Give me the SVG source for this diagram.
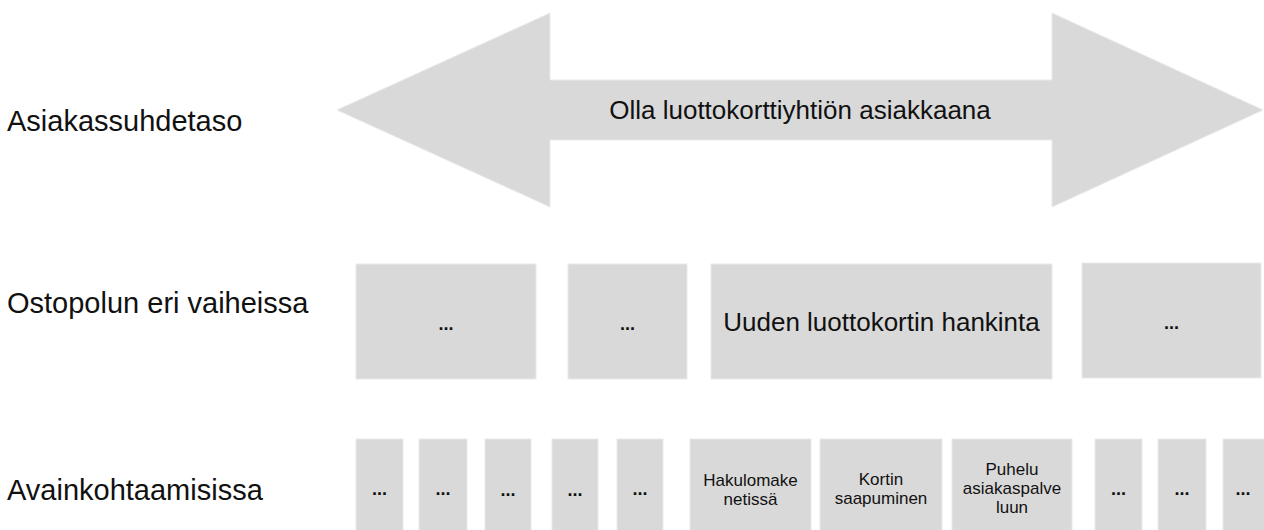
<svg xmlns="http://www.w3.org/2000/svg" width="1264" height="530" viewBox="0 0 1264 530">
<style>
.shape{fill:#D9D9D9;stroke:#E9E9E9;stroke-width:1}
.lbl{font-family:"Liberation Sans",Arial,sans-serif;fill:#111}
.side{font-size:29px}
.big{font-size:26px;text-anchor:middle}
.dots{font-size:18px;text-anchor:middle;font-weight:bold}
.sm{font-size:17px;text-anchor:middle}
</style>
<rect width="1264" height="530" fill="#fff"/>
<g id="labels">
<text class="lbl side" x="7" y="131">Asiakassuhdetaso</text>
<text class="lbl side" x="7" y="313">Ostopolun eri vaiheissa</text>
<text class="lbl side" x="7" y="500">Avainkohtaamisissa</text>
</g>
<g id="arrow">
<polygon class="shape" points="337,110 550,13 550,80 1052,80 1052,13 1263,110 1052,207 1052,140 550,140 550,207"/>
<text class="lbl big" x="800" y="119">Olla luottokorttiyhtiön asiakkaana</text>
</g>
<g id="phase1"><rect class="shape" x="356" y="264" width="180" height="115"/><text class="lbl dots" x="446" y="330">...</text></g>
<g id="phase2"><rect class="shape" x="568" y="264" width="119" height="115"/><text class="lbl dots" x="627.5" y="330">...</text></g>
<g id="phase3"><rect class="shape" x="711" y="264" width="341" height="115"/><text class="lbl big" x="881.5" y="331">Uuden luottokortin hankinta</text></g>
<g id="phase4"><rect class="shape" x="1082" y="263" width="179" height="115"/><text class="lbl dots" x="1171.5" y="329">...</text></g>
<g id="touch1"><rect class="shape" x="356" y="439" width="47" height="110"/><text class="lbl dots" x="379.5" y="495">...</text></g>
<g id="touch2"><rect class="shape" x="419" y="439" width="48" height="110"/><text class="lbl dots" x="443" y="495">...</text></g>
<g id="touch3"><rect class="shape" x="485" y="439" width="46" height="110"/><text class="lbl dots" x="508" y="496">...</text></g>
<g id="touch4"><rect class="shape" x="552" y="439" width="46" height="110"/><text class="lbl dots" x="575" y="496">...</text></g>
<g id="touch5"><rect class="shape" x="617" y="439" width="46" height="110"/><text class="lbl dots" x="640" y="495">...</text></g>
<g id="touch6"><rect class="shape" x="690" y="439" width="121" height="110"/><text class="lbl sm" x="750.5" y="486">Hakulomake</text><text class="lbl sm" x="750.5" y="505">netissä</text></g>
<g id="touch7"><rect class="shape" x="820" y="439" width="122" height="110"/><text class="lbl sm" x="881" y="485">Kortin</text><text class="lbl sm" x="881" y="504">saapuminen</text></g>
<g id="touch8"><rect class="shape" x="952" y="439" width="120" height="110"/><text class="lbl sm" x="1012" y="475">Puhelu</text><text class="lbl sm" x="1012" y="494">asiakaspalve</text><text class="lbl sm" x="1012" y="513">luun</text></g>
<g id="touch9"><rect class="shape" x="1095" y="439" width="47" height="110"/><text class="lbl dots" x="1118.5" y="495">...</text></g>
<g id="touch10"><rect class="shape" x="1158" y="439" width="48" height="110"/><text class="lbl dots" x="1182" y="495">...</text></g>
<g id="touch11"><rect class="shape" x="1223" y="439" width="47" height="110"/><text class="lbl dots" x="1243" y="495">...</text></g>
<g id="connectors"></g>
</svg>
